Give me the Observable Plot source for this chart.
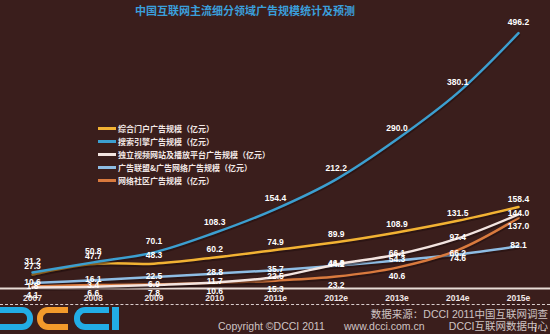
<!DOCTYPE html>
<html><head><meta charset="utf-8">
<script src="https://cdn.jsdelivr.net/npm/d3@7"></script>
<script src="https://cdn.jsdelivr.net/npm/@observablehq/plot@0.6"></script>
<style>
html,body{margin:0;padding:0;background:#3a1e1c;}
#wrap{position:relative;width:550px;height:334px;overflow:hidden;background:#3a1e1c;font-family:"Noto Sans CJK SC","Liberation Sans",sans-serif;}
#chart{position:absolute;left:0;top:0;}
#title{position:absolute;left:135px;top:2px;color:#3a9fdb;font-size:11px;font-weight:bold;white-space:nowrap;line-height:16px;}
#legend{position:absolute;left:98px;top:122px;}
.lg{height:13px;line-height:13px;font-size:8px;font-weight:bold;color:#f2e8e6;white-space:nowrap;display:flex;align-items:center;}
.lg i{display:inline-block;width:18px;height:2.5px;margin-right:2px;}
#dash{position:absolute;left:0;top:304px;width:550px;border-top:1px dashed #d8cccc;}
.logo{position:absolute;top:307px;height:23px;box-sizing:border-box;}
.ft{position:absolute;font-size:10.5px;color:#cfc4c4;white-space:nowrap;line-height:11px;height:11px;font-family:"Liberation Sans","Noto Sans CJK SC",sans-serif;}
</style></head>
<body>
<div id="wrap">
  <div id="chart"></div>
  <div id="title"></div>
  <div id="legend"></div>
  <div id="dash"></div>
  <div class="logo" style="left:-6px;width:39px;border:6px solid #22ade6;border-left:none;border-radius:0 11px 11px 0;"></div>
  <div class="logo" style="left:37px;width:31px;border:6px solid #f39a2b;border-right:none;border-radius:11px 0 0 11px;"></div>
  <div class="logo" style="left:74px;width:35px;border:6px solid #22ade6;border-right:none;border-radius:11px 0 0 11px;"></div>
  <div class="logo" style="left:112px;width:7px;background:#22ade6;"></div>
  <div class="ft" id="src" style="right:2px;top:309px;"></div>
  <div class="ft" id="copy" style="left:218px;top:321px;"></div>
  <div class="ft" id="url" style="left:344px;top:321px;"></div>
  <div class="ft" id="org" style="right:2px;top:321px;"></div>
</div>
<script>
const titleText = "中国互联网主流细分领域广告规模统计及预测";
const years = ["2007","2008","2009","2010","2011e","2012e","2013e","2014e","2015e"];
const seriesNames = [
  "综合门户广告规模（亿元）",
  "搜索引擎广告规模（亿元）",
  "独立视频网站及播放平台广告规模（亿元）",
  "广告联盟&广告网络广告规模（亿元）",
  "网络社区广告规模（亿元）"
];
const portal    = [27.3, 47.7, 48.3, 60.2, 74.9, 89.9, 108.9, 131.5, 158.4];
const search    = [31.2, 50.8, 70.1, 108.3, 154.4, 212.2, 290.0, 380.1, 496.2];
const video     = [1.8, 3.4, 6.9, 11.7, 22.5, 46.8, 66.1, 97.4, 144.0];
const network   = [10.6, 16.1, 22.5, 28.8, 35.7, 44.2, 54.3, 66.2, 82.1];
const community = [4.1, 6.6, 7.8, 10.6, 15.3, 23.2, 40.6, 74.6, 137.0];
const footSource = "数据来源：DCCI 2011中国互联网调查";
const footCopy = "Copyright ©DCCI 2011";
const footUrl = "www.dcci.com.cn";
const footOrg = "DCCI互联网数据中心";

const seriesValues = [portal, search, video, network, community];
const colors = ["#f2b233", "#3c9fd0", "#f3e4e0", "#8ebce3", "#d97a3e"];
const labelDy = [-8, -11, -1, -1, 8.5];

const rows = [];
seriesValues.forEach((vals, s) => vals.forEach((v, i) => rows.push({s, i, value: v})));

const lineMarks = [];
const textMarks = [];
const drawOrder = [3, 4, 2, 0, 1];
drawOrder.forEach(s => {
  const d = rows.filter(r => r.s === s);
  lineMarks.push(Plot.line(d, {x: "i", y: "value", stroke: "#1e0c0b", strokeWidth: 3.5, strokeOpacity: 0.5, curve: "catmull-rom", dy: 1.5}));
  lineMarks.push(Plot.line(d, {x: "i", y: "value", stroke: colors[s], strokeWidth: 2.5, curve: "catmull-rom"}));
});
seriesValues.forEach((vals, s) => {
  const d = rows.filter(r => r.s === s);
  textMarks.push(Plot.text(d, {x: "i", y: "value", text: r => r.value.toFixed(1), dy: labelDy[s], fill: "#ffffff", fontSize: 8.5, fontWeight: "bold"}));
});

const chart = Plot.plot({
  width: 550, height: 334,
  marginLeft: 0, marginRight: 0, marginTop: 5, marginBottom: 46,
  style: {background: "transparent", color: "#f0e6e6", fontFamily: "'Liberation Sans', Arial, sans-serif"},
  x: {type: "linear", domain: [-0.527, 8.527], axis: null},
  y: {domain: [0, 550], axis: null},
  marks: [
    Plot.ruleY([0], {stroke: "#e8dcd6", strokeWidth: 2}),
    Plot.axisX(years.map((_, i) => i), {tickSize: 0, tickPadding: 6.5, tickFormat: i => years[i], fontSize: 8.5, fontWeight: "bold", fill: "#f0e6e6"}),
    ...lineMarks,
    ...textMarks
  ]
});
document.getElementById("chart").appendChild(chart);
document.getElementById("title").textContent = titleText;
const lg = document.getElementById("legend");
seriesNames.forEach((n, s) => {
  const row = document.createElement("div");
  row.className = "lg";
  const key = document.createElement("i");
  key.style.background = colors[s];
  row.appendChild(key);
  row.appendChild(document.createTextNode(n));
  lg.appendChild(row);
});
document.getElementById("src").textContent = footSource;
document.getElementById("copy").textContent = footCopy;
document.getElementById("url").textContent = footUrl;
document.getElementById("org").textContent = footOrg;
</script>
</body></html>
